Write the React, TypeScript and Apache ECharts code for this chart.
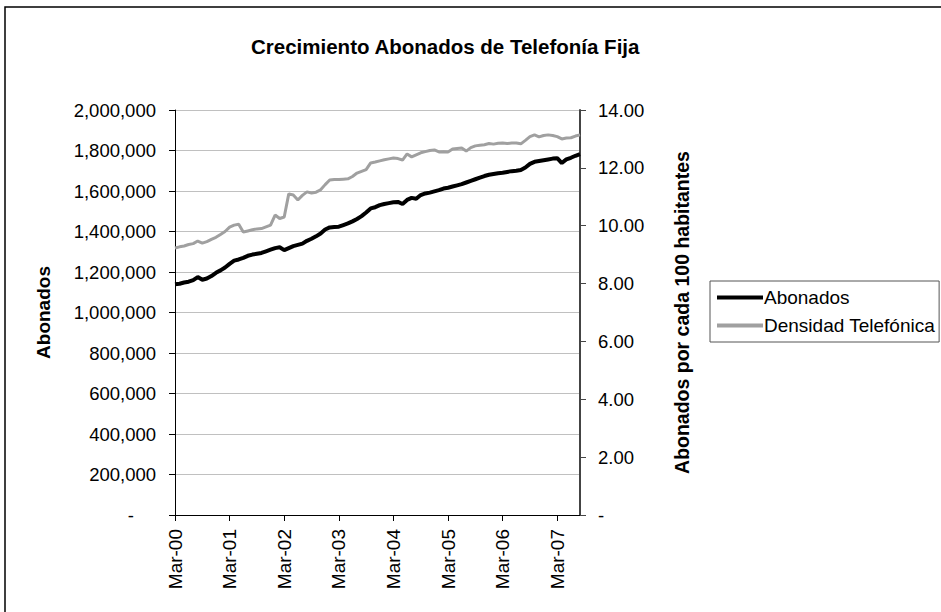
import React, { useEffect, useRef } from "react";
import * as echarts from "echarts";

const monthNames = ["Mar", "Apr", "May", "Jun", "Jul", "Aug", "Sep", "Oct", "Nov", "Dec", "Jan", "Feb"];
const startYear = 2000;
const monthCount = 90;

const categories: string[] = [];
for (let i = 0; i < monthCount; i++) {
  const m = monthNames[i % 12];
  const yr = startYear + Math.floor((i + 2) / 12);
  categories.push(`${m}-${String(yr % 100).padStart(2, "0")}`);
}

const abonados = [
  1140000, 1142000, 1148000, 1152000, 1160000, 1175000, 1162000, 1168000, 1180000, 1196000, 1208000, 1222000,
  1240000, 1256000, 1262000, 1270000, 1280000, 1286000, 1290000, 1294000, 1302000, 1310000, 1318000, 1322000,
  1308000, 1318000, 1328000, 1334000, 1340000, 1354000, 1364000, 1376000, 1390000, 1410000, 1420000, 1422000,
  1424000, 1432000, 1440000, 1450000, 1462000, 1476000, 1494000, 1514000, 1520000, 1530000, 1536000, 1540000,
  1544000, 1546000, 1536000, 1556000, 1566000, 1562000, 1580000, 1588000, 1592000, 1598000, 1604000, 1612000,
  1616000, 1622000, 1628000, 1634000, 1642000, 1650000, 1658000, 1666000, 1674000, 1680000, 1684000, 1688000,
  1690000, 1694000, 1698000, 1700000, 1704000, 1716000, 1734000, 1744000, 1748000, 1752000, 1756000, 1760000,
  1762000, 1738000, 1756000, 1764000, 1774000, 1782000,
];

const densidad = [
  9.23, 9.27, 9.3, 9.35, 9.38, 9.47, 9.4, 9.45, 9.53, 9.6, 9.7, 9.8,
  9.95, 10.02, 10.05, 9.78, 9.82, 9.86, 9.89, 9.9, 9.96, 10.02, 10.37, 10.25,
  10.3, 11.1, 11.06, 10.89, 11.05, 11.17, 11.13, 11.16, 11.24, 11.42, 11.58, 11.6,
  11.6, 11.61, 11.62, 11.7, 11.82, 11.88, 11.94, 12.17, 12.2, 12.24, 12.28, 12.31,
  12.34, 12.32, 12.27, 12.48, 12.38, 12.45, 12.52, 12.56, 12.6, 12.62, 12.55, 12.56,
  12.55, 12.65, 12.67, 12.69, 12.58, 12.7, 12.76, 12.78, 12.8, 12.84, 12.82, 12.85,
  12.86, 12.84, 12.86, 12.86, 12.83, 12.95, 13.08, 13.14, 13.07, 13.12, 13.14, 13.12,
  13.08, 13.0, 13.03, 13.04, 13.1, 13.14,
];

const FONT = "'Liberation Sans', Arial, sans-serif";

export default function App() {
  const ref = useRef<HTMLDivElement>(null);
  useEffect(() => {
    if (!ref.current) return;
    const chart = echarts.init(ref.current, undefined, { renderer: "svg" });
    chart.setOption({
      animation: false,
      backgroundColor: "#fff",
      textStyle: { fontFamily: FONT },
      title: {
        text: "Crecimiento Abonados de Telefonía Fija",
        left: 246,
        top: 31,
        textStyle: { fontFamily: FONT, fontSize: 20.5, fontWeight: "bold", color: "#000" },
      },
      graphic: [
        {
          type: "rect",
          shape: { x: 5, y: 7, width: 1000, height: 1000 },
          style: { fill: "none", stroke: "#000", lineWidth: 1.5 },
          silent: true,
        },
      ],
      legend: {
        left: 710,
        top: 281,
        orient: "vertical",
        itemWidth: 46,
        itemHeight: 4,
        itemGap: 9,
        padding: [7, 4, 7, 7],
        borderColor: "#555",
        borderWidth: 1,
        textStyle: { fontFamily: FONT, fontSize: 19, color: "#000", padding: [0, 0, 0, -4] },
        data: [
          { name: "Abonados", icon: "rect", itemStyle: { color: "#000" } },
          { name: "Densidad Telefónica", icon: "rect", itemStyle: { color: "#a0a0a0" } },
        ],
      },
      grid: { left: 175, right: 361, top: 110, bottom: 97 },
      xAxis: {
        type: "category",
        data: categories,
        boundaryGap: false,
        axisLine: { lineStyle: { color: "#000", width: 1 } },
        axisTick: { show: true, length: 6, interval: (i: number) => i % 12 === 0, lineStyle: { color: "#000" } },
        axisLabel: {
          interval: (i: number) => i % 12 === 0,
          rotate: 90,
          margin: 14,
          fontSize: 19,
          fontFamily: FONT,
          color: "#000",
        },
        splitLine: { show: false },
      },
      yAxis: [
        {
          type: "value",
          min: 0,
          max: 2000000,
          interval: 200000,
          name: "Abonados",
          nameLocation: "middle",
          nameGap: 122,
          nameTextStyle: { fontFamily: FONT, fontSize: 19, fontWeight: "bold", color: "#000" },
          axisLine: { show: true, lineStyle: { color: "#000" } },
          axisTick: { show: true, length: 6, lineStyle: { color: "#000" } },
          axisLabel: {
            margin: 19,
            fontSize: 18.5,
            fontFamily: FONT,
            color: "#000",
            formatter: (v: number) => (v === 0 ? "{d|-}" : v.toLocaleString("en-US")),
            rich: { d: { fontSize: 18.5, fontFamily: FONT, color: "#000", padding: [0, 22, 0, 0] } },
          },
          splitLine: { show: true, lineStyle: { color: "#c0c0c0", width: 1 } },
        },
        {
          type: "value",
          min: 0,
          max: 14,
          interval: 2,
          position: "right",
          name: "Abonados por cada 100 habitantes",
          nameLocation: "middle",
          nameGap: 92,
          nameTextStyle: { fontFamily: FONT, fontSize: 19.5, fontWeight: "bold", color: "#000" },
          axisLine: { show: true, lineStyle: { color: "#444", width: 2 } },
          axisTick: { show: true, length: 6, lineStyle: { color: "#444" } },
          axisLabel: {
            margin: 18,
            fontSize: 18.5,
            fontFamily: FONT,
            color: "#000",
            formatter: (v: number) => (v === 0 ? "-" : v.toFixed(2)),
          },
          splitLine: { show: false },
        },
      ],
      series: [
        {
          name: "Abonados",
          type: "line",
          data: abonados,
          yAxisIndex: 0,
          symbol: "none",
          lineStyle: { color: "#000", width: 4 },
          itemStyle: { color: "#000" },
        },
        {
          name: "Densidad Telefónica",
          type: "line",
          data: densidad,
          yAxisIndex: 1,
          symbol: "none",
          lineStyle: { color: "#a0a0a0", width: 3 },
          itemStyle: { color: "#a0a0a0" },
        },
      ],
    });
    return () => chart.dispose();
  }, []);
  return (
    <div
      ref={ref}
      style={{ position: "fixed", left: 0, top: 0, width: 941, height: 612 }}
    />
  );
}
